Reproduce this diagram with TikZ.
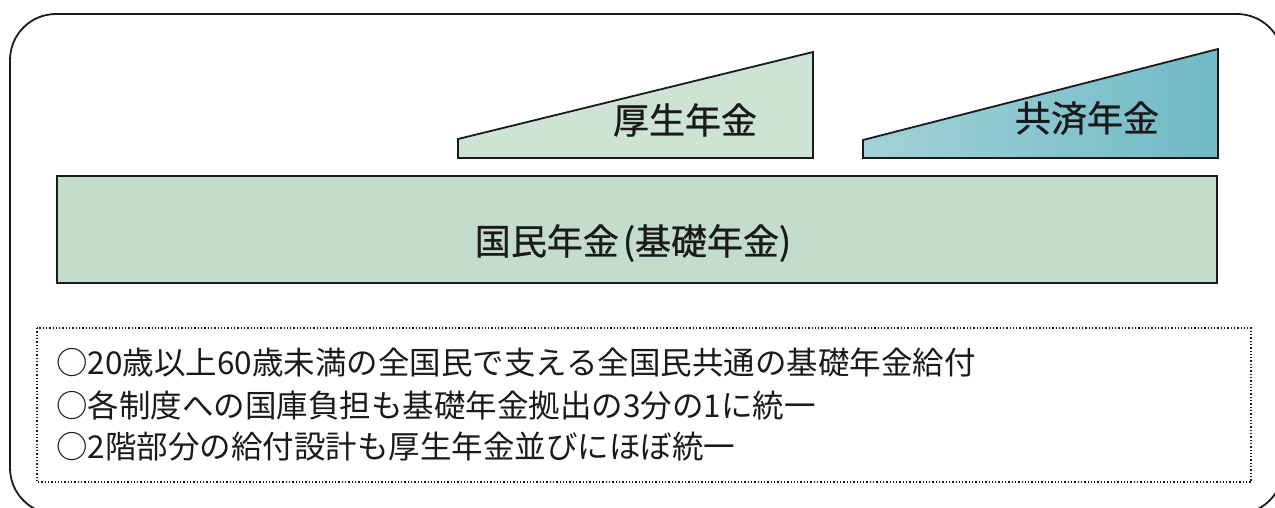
\documentclass[tikz,border=0pt]{standalone}
\usepackage{fontspec}
\setmainfont{Noto Sans CJK JP}
\newfontfamily\titlefont[FakeBold=0.7]{Noto Sans CJK JP}
\definecolor{koseifill}{HTML}{CDE3D3}
\definecolor{kokuminfill}{HTML}{C3DCCB}
\definecolor{kyosaiL}{HTML}{A3D2D7}
\definecolor{kyosaiR}{HTML}{70BAC6}
\definecolor{inkc}{HTML}{1A1A1A}
\tikzset{
  frameline/.style={draw=inkc, line width=1.8pt},
  tierbox/.style={draw=inkc, line width=1.8pt, line join=miter},
  titletext/.style={inner sep=0pt, font=\titlefont\fontsize{36}{42}\selectfont, text=inkc},
  notetext/.style={inner sep=0pt, anchor=west, font=\fontsize{31.5}{38}\selectfont, text=inkc},
  notebox/.style={draw=inkc, line width=1.3pt, dotted}
}
\begin{document}
\begin{tikzpicture}[x=1pt,y=-1pt]
\useasboundingbox (0,0) rectangle (1275,508);
\clip (0,0) rectangle (1275,508);
% outer rounded frame (partly cut by the page edge)
\draw[frameline, rounded corners=46pt] (10,14) rectangle (1283,514);
% second tier wedges
\draw[tierbox, fill=koseifill] (458,158) -- (458,139) -- (813,52) -- (813,158) -- cycle;
\node[titletext] (kosei) at (685,120) {厚生年金};
\draw[tierbox, left color=kyosaiL, right color=kyosaiR] (863,158) -- (863,140) -- (1218,49) -- (1218,158) -- cycle;
\node[titletext] (kyosai) at (1087,118) {共済年金};
% base tier
\draw[tierbox, fill=kokuminfill] (57,176) rectangle (1217,283);
\node[titletext] (kokumin) at (633,243) {国民年金\hspace{4pt}(基礎年金)\hspace{3pt}};
% notes
\draw[notebox] (37,328) rectangle (1251,482);
\node[notetext] (n1) at (56,363) {○20歳以上60歳未満の全国民で支える全国民共通の基礎年金給付};
\node[notetext] (n2) at (56,405) {○各制度への国庫負担も基礎年金拠出の3分の1に統一};
\node[notetext] (n3) at (56,447) {○2階部分の給付設計も厚生年金並びにほぼ統一};
\end{tikzpicture}
\end{document}
